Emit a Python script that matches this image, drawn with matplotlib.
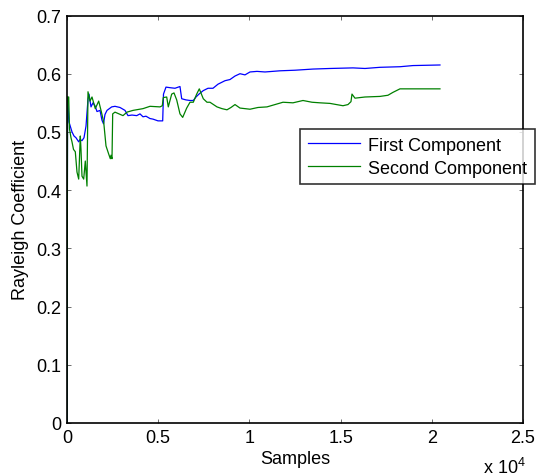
import matplotlib
matplotlib.use("Agg")
import matplotlib.pyplot as plt

plt.rcParams['font.family'] = ['Liberation Sans', 'DejaVu Sans']
plt.rcParams['mathtext.fontset'] = 'custom'
plt.rcParams['mathtext.rm'] = 'Liberation Sans'

# ---- data ----
first_x = [0, 30, 110, 274, 384, 493, 641, 713, 822, 932, 1042, 1151, 1206, 1316,
           1425, 1535, 1645, 1809, 1919, 2001, 2083, 2193, 2450, 2631, 2905, 3180,
           3344, 3563, 3821, 4002, 4166, 4331, 4550, 4715, 4989, 5246, 5290, 5427,
           5646, 5920, 6194, 6288, 6524, 6743, 6924, 7072, 7236, 7472, 7730, 8004,
           8278, 8662, 8936, 9210, 9484, 9758, 10032, 10416, 10854, 11677, 12499,
           13486, 14418, 15679, 16337, 17159, 18255, 18968, 20448]
first_y = [0.0, 0.56, 0.517, 0.50, 0.493, 0.49, 0.483, 0.487, 0.485, 0.49, 0.51,
           0.556, 0.565, 0.543, 0.55, 0.545, 0.535, 0.537, 0.52, 0.514, 0.53, 0.537,
           0.543, 0.544, 0.542, 0.537, 0.528, 0.529, 0.528, 0.531, 0.526, 0.527,
           0.523, 0.522, 0.519, 0.519, 0.565, 0.577, 0.576, 0.575, 0.578, 0.557,
           0.555, 0.554, 0.554, 0.56, 0.565, 0.571, 0.575, 0.575, 0.582, 0.588,
           0.59, 0.596, 0.60, 0.598, 0.603, 0.604, 0.603, 0.605, 0.606, 0.608,
           0.609, 0.61, 0.609, 0.611, 0.612, 0.614, 0.615]

second_x = [0, 30, 93, 137, 219, 274, 356, 455, 548, 641, 729, 767, 822, 915, 1003,
            1096, 1151, 1261, 1371, 1551, 1738, 1880, 2012, 2138, 2286, 2374, 2412,
            2467, 2505, 2631, 3070, 3289, 3618, 4166, 4550, 5098, 5224, 5279, 5466,
            5553, 5740, 5866, 6014, 6194, 6343, 6562, 6743, 6924, 7110, 7253, 7472,
            7675, 7839, 8223, 8497, 8771, 8990, 9210, 9484, 10032, 10471, 10964,
            11403, 11841, 12389, 12938, 13431, 13869, 14418, 15130, 15404, 15569,
            15624, 15788, 16337, 17159, 17597, 17871, 18255, 19351, 20448]
second_y = [0.0, 0.56, 0.56, 0.505, 0.49, 0.483, 0.47, 0.466, 0.431, 0.419, 0.493,
            0.47, 0.424, 0.419, 0.45, 0.407, 0.569, 0.553, 0.56, 0.54, 0.553, 0.535,
            0.517, 0.476, 0.462, 0.454, 0.46, 0.454, 0.531, 0.534, 0.528, 0.534,
            0.537, 0.54, 0.544, 0.543, 0.545, 0.559, 0.56, 0.543, 0.565, 0.567,
            0.555, 0.531, 0.525, 0.541, 0.551, 0.551, 0.565, 0.574, 0.557, 0.551,
            0.551, 0.543, 0.54, 0.538, 0.542, 0.547, 0.541, 0.539, 0.542, 0.543,
            0.547, 0.551, 0.55, 0.554, 0.551, 0.55, 0.549, 0.545, 0.547, 0.552,
            0.565, 0.558, 0.56, 0.561, 0.563, 0.568, 0.574, 0.574, 0.574]

series_labels = ["First Component", "Second Component"]
x_ticks = [0, 5000, 10000, 15000, 20000, 25000]
x_tick_labels = ["0", "0.5", "1", "1.5", "2", "2.5"]
y_ticks = [0, 0.1, 0.2, 0.3, 0.4, 0.5, 0.6, 0.7]
y_tick_labels = ["0", "0.1", "0.2", "0.3", "0.4", "0.5", "0.6", "0.7"]

# ---- figure ----
W, H = 536, 477
FS = 13
fig = plt.figure(figsize=(W / 100, H / 100), dpi=100)
ax = fig.add_axes([67 / W, 1 - 424 / H, 456 / W, 407.5 / H])

ax.plot(first_x, first_y, color=(0, 0, 1), lw=0.9, label=series_labels[0])
ax.plot(second_x, second_y, color=(0, 0.5, 0), lw=0.9, label=series_labels[1])

ax.set_xlim(0, 25000)
ax.set_ylim(0, 0.7)
ax.set_xticks(x_ticks)
ax.set_xticklabels(x_tick_labels)
ax.set_yticks(y_ticks)
ax.set_yticklabels(y_tick_labels)
ax.tick_params(direction='in', length=3, width=0.6, color='#555555',
               labelsize=FS, top=True, right=True, pad=4)
for s in ax.spines.values():
    s.set_linewidth(1.2)
    s.set_color('black')

ax.set_xlabel("Samples", fontsize=FS, labelpad=3)
ax.set_ylabel("Rayleigh Coefficient", fontsize=FS, labelpad=5)

fig.text(483 / W, 1 - 474 / H, r"x 10$^{4}$", fontsize=FS, ha='left', va='baseline')

leg = ax.legend(loc='upper left', bbox_to_anchor=(300 / W, 1 - 130 / H),
                bbox_transform=fig.transFigure, fontsize=FS, frameon=True,
                fancybox=False, borderaxespad=0, handlelength=2.9,
                handletextpad=0.45, borderpad=0.42, labelspacing=0.33)
leg.get_frame().set_edgecolor('black')
leg.get_frame().set_linewidth(1.2)
leg.set_zorder(5)

fig.savefig("out.png", dpi=100)
